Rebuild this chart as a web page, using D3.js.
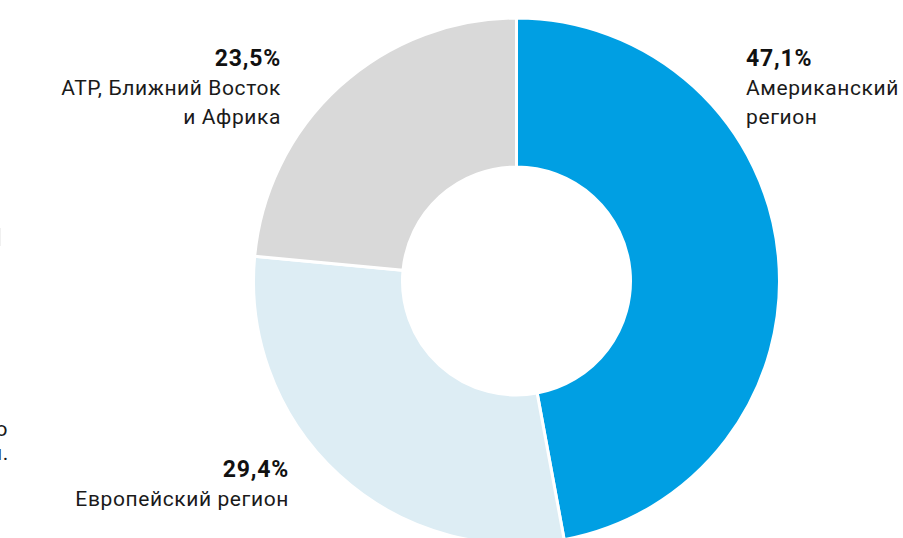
<!DOCTYPE html>
<html>
<head>
<meta charset="utf-8">
<script src="https://cdn.jsdelivr.net/npm/d3@7"></script>
<style>
  body { margin: 0; background: #fff; }
  svg { display: block; font-family: Roboto, "Noto Sans", sans-serif; }
  .pct { font-weight: 700; font-size: 23px; letter-spacing: 0.8px; fill: #111; }
  .name { font-size: 21px; letter-spacing: 0.6px; fill: #1a1a1a; }
</style>
</head>
<body>
<svg width="903" height="538"></svg>
<script>
// data
const regions = ['Американский регион', 'Европейский регион', 'АТР, Ближний Восток и Африка'];
const shares = [47.1, 29.4, 23.5];
const shareLabels = ['47,1%', '29,4%', '23,5%'];
const nameLines = [['Американский', 'регион'], ['Европейский регион'], ['АТР, Ближний Восток', 'и Африка']];
const colors = ['#009fe3', '#ddedf4', '#d9d9d9'];

const svg = d3.select('svg');
const cx = 516.5, cy = 281;

const pie = d3.pie().sort(null).value(d => d.value);
const arc = d3.arc().innerRadius(114).outerRadius(263);

const data = regions.map((r, i) => ({ region: r, value: shares[i] }));

const g = svg.append('g').attr('transform', `translate(${cx},${cy})`);
g.selectAll('path')
  .data(pie(data))
  .enter().append('path')
    .attr('d', arc)
    .attr('fill', (d, i) => colors[i])
    .attr('stroke', '#fff')
    .attr('stroke-width', 3);

// label placement (x, baseline of percent, anchor)
const labelPos = [
  { x: 746, y: 66, anchor: 'start' },
  { x: 289, y: 477, anchor: 'end' },
  { x: 281, y: 66, anchor: 'end' }
];
const lineGap = 29;

labelPos.forEach((p, i) => {
  const t = svg.append('g');
  t.append('text')
    .attr('class', 'pct')
    .attr('x', p.x).attr('y', p.y)
    .attr('text-anchor', p.anchor)
    .text(shareLabels[i]);
  nameLines[i].forEach((line, j) => {
    t.append('text')
      .attr('class', 'name')
      .attr('x', p.x).attr('y', p.y + lineGap * (j + 1))
      .attr('text-anchor', p.anchor)
      .text(line);
  });
});

// cut-off text from the neighbouring column on the left
svg.append('rect').attr('x', 0).attr('y', 228).attr('width', 1).attr('height', 18).attr('fill', '#f0f0f0');
svg.append('text').attr('class', 'name').attr('x', 8).attr('y', 436).attr('text-anchor', 'end').text('о');
svg.append('text').attr('class', 'name').attr('x', 9).attr('y', 460).attr('text-anchor', 'end').text('л.');
</script>
</body>
</html>
